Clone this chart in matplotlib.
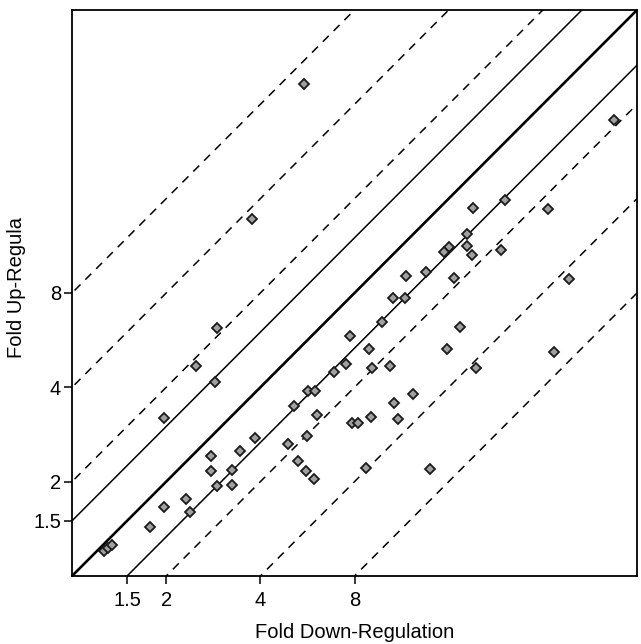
import numpy as np
import matplotlib
matplotlib.use("Agg")
import matplotlib.pyplot as plt
from matplotlib.ticker import FixedLocator, FixedFormatter, NullLocator

plt.rcParams['font.family'] = ['Liberation Sans', 'DejaVu Sans']

# fold down-regulation (x) and fold up-regulation (y)
fold_down = [5.52, 54.0, 3.76, 24.2, 19.1, 33.3, 18.3, 16.0, 15.5, 18.3,
             19.0, 23.6, 11.7, 13.5, 16.7, 38.7, 10.6, 11.6, 2.90, 7.74,
             2.50, 7.51, 2.87, 6.88, 5.67, 6.00, 5.14, 6.08, 1.97, 9.79,
             17.4, 8.90, 15.8, 9.12, 10.4, 19.5, 34.7, 12.3, 10.7, 7.85,
             8.21, 9.01, 11.0, 3.85, 5.65, 4.90, 3.44, 2.78, 5.27, 2.78,
             3.25, 5.60, 5.95, 2.91, 3.25, 2.31, 1.97, 2.38, 1.77, 8.71,
             13.9, 1.27, 1.30, 1.34]
fold_up = [37.2, 28.5, 13.8, 15.8, 14.9, 14.8, 12.3, 11.2, 10.8, 11.3,
           10.6, 11.0, 9.05, 9.32, 8.95, 8.87, 7.69, 7.73, 6.17, 5.83,
           4.69, 4.74, 4.15, 4.48, 3.89, 3.90, 3.49, 3.26, 3.19, 6.47,
           6.23, 5.29, 5.29, 4.62, 4.67, 4.62, 5.19, 3.82, 3.56, 3.08,
           3.08, 3.21, 3.16, 2.76, 2.80, 2.64, 2.50, 2.42, 2.33, 2.17,
           2.18, 2.17, 2.04, 1.94, 1.95, 1.76, 1.66, 1.60, 1.43, 2.21,
           2.20, 1.20, 1.23, 1.26]

tick_vals = [1.5, 2, 4, 8]
tick_text = ['1.5', '2', '4', '8']

# reference lines y = k * x
solid_ratios = [1 / 1.5, 1.5]
dashed_ratios = [1 / 8, 1 / 4, 1 / 2, 2, 4, 8]

lo, hi = 1, 64

fig = plt.figure(figsize=(6.41, 6.44), dpi=100)
ax = fig.add_axes([72 / 641, 1 - 576 / 644, 565 / 641, 566 / 644])
ax.set_xscale('log', base=2)
ax.set_yscale('log', base=2)
ax.set_xlim(lo, hi)
ax.set_ylim(lo, hi)

xx = np.array([lo / 16, hi * 16], dtype=float)
ax.plot(xx, xx, color='black', lw=1.9, zorder=2)
for k in solid_ratios:
    ax.plot(xx, k * xx, color='black', lw=1.1, zorder=2)
for k in dashed_ratios:
    ax.plot(xx, k * xx, color='black', lw=1.1, ls=(0, (5.5, 4.5)), zorder=2)

ax.plot(fold_down, fold_up, ls='none', marker='D', ms=5.0,
        mfc='#a0a0a0', mec='#1a1a1a', mew=1.3, zorder=3)

for axis in (ax.xaxis, ax.yaxis):
    axis.set_major_locator(FixedLocator(tick_vals))
    axis.set_major_formatter(FixedFormatter(tick_text))
    axis.set_minor_locator(NullLocator())

ax.tick_params(axis='both', direction='out', length=6, width=1.1,
               labelsize=14.5, color='black')
ax.tick_params(axis='x', pad=5)
ax.tick_params(axis='y', pad=2)
for s in ax.spines.values():
    s.set_linewidth(1.3)

fig.text(355 / 641, 1 - 638 / 644, 'Fold Down-Regulation', ha='center',
         va='baseline', fontsize=14.5)
fig.text(17 / 641, 1 - 287 / 644, 'Fold Up-Regula', ha='center',
         va='center', rotation=90, fontsize=14.5)

fig.savefig('out.png', dpi=100)
